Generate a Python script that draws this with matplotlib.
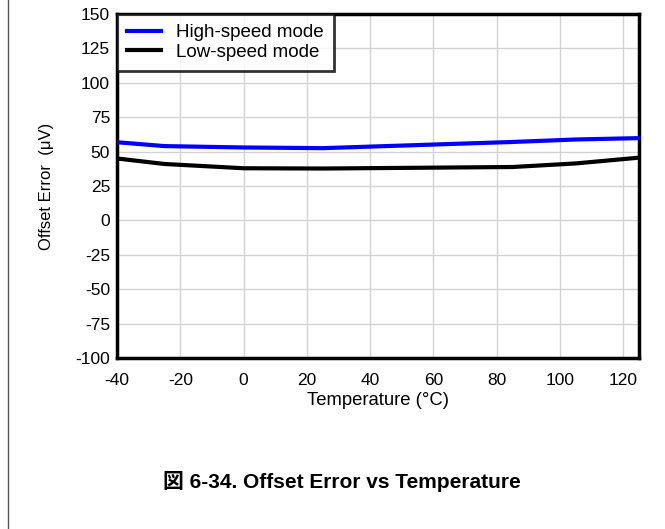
import matplotlib
matplotlib.use("Agg")
import matplotlib.pyplot as plt
from matplotlib.lines import Line2D

plt.rcParams['font.family'] = ['Liberation Sans', 'Noto Sans CJK JP', 'DejaVu Sans']
plt.rcParams['axes.unicode_minus'] = False

temps = [-40, -25, 0, 25, 85, 105, 125]
high_speed = [56.8, 54.0, 53.0, 52.5, 57.0, 58.8, 59.8]
low_speed = [45.0, 41.0, 37.9, 37.7, 38.8, 41.4, 45.6]
xticks = [-40, -20, 0, 20, 40, 60, 80, 100, 120]
yticks = [-100, -75, -50, -25, 0, 25, 50, 75, 100, 125, 150]

fig = plt.figure(figsize=(6.65, 5.29), dpi=100)
ax = fig.add_axes([117/665, 1-358/529, (639-117)/665, (358-14)/529])

ax.plot(temps, high_speed, color='#0000ff', lw=3, label='High-speed mode', zorder=3)
ax.plot(temps, low_speed, color='black', lw=3, label='Low-speed mode', zorder=3)

ax.set_xlim(-40, 125)
ax.set_ylim(-100, 150)
ax.set_xticks(xticks)
ax.set_yticks(yticks)
ax.grid(True, color='#d3d3d3', lw=1)
ax.set_axisbelow(True)
ax.tick_params(length=0, labelsize=12.5)
ax.tick_params(axis='x', pad=11)
ax.tick_params(axis='y', pad=5)
for s in ax.spines.values():
    s.set_linewidth(2.5)
    s.set_color('black')

ax.set_xlabel('Temperature (\u00b0C)', fontsize=13.3, labelpad=3)
ax.set_ylabel('Offset Error  (\u03bcV)', fontsize=12, labelpad=15)

leg = ax.legend(loc='upper left', bbox_to_anchor=(0, 1), fontsize=13.5, frameon=True,
                fancybox=False, borderaxespad=0, handlelength=1.8,
                borderpad=0.55, labelspacing=0.12, handletextpad=0.8)
leg.get_frame().set_edgecolor('black')
leg.get_frame().set_linewidth(2)

fig.add_artist(Line2D([8/665, 8/665], [0, 1], color='#555555', lw=1))

fig.text(342/665, 1-481/529, '\u56f3 6-34. Offset Error vs Temperature', ha='center', va='center',
         fontsize=15, fontweight='bold')

fig.savefig('out.png', dpi=100)
